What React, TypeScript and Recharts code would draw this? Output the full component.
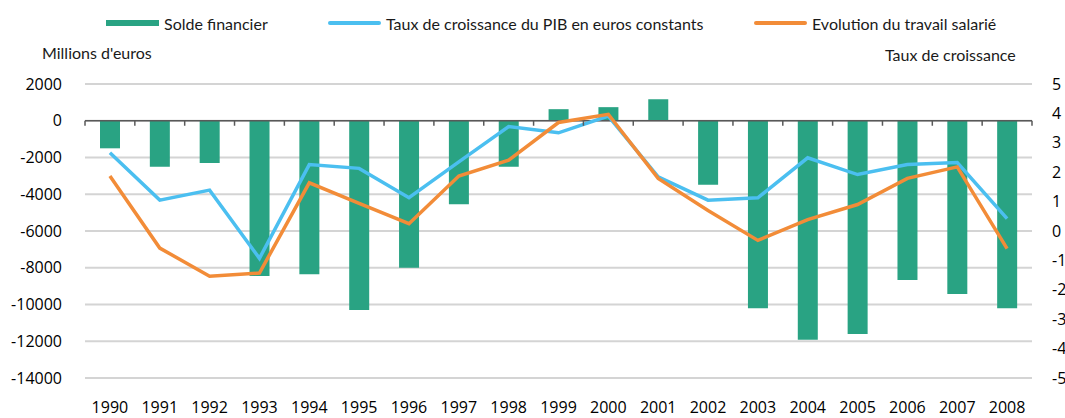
import React from 'react';
import { ComposedChart, Bar, Line, XAxis, YAxis, CartesianGrid, ReferenceLine } from 'recharts';

const years = ['1990', '1991', '1992', '1993', '1994', '1995', '1996', '1997', '1998', '1999', '2000', '2001', '2002', '2003', '2004', '2005', '2006', '2007', '2008'];
// Millions d'euros (left axis)
const soldeFinancier = [-1500, -2500, -2300, -8450, -8350, -10300, -8000, -4550, -2500, 630, 740, 1170, -3480, -10200, -11920, -11600, -8670, -9430, -10200];
// Taux de croissance (right axis)
const tauxPib = [2.66, 1.05, 1.39, -0.93, 2.26, 2.13, 1.13, 2.35, 3.55, 3.34, 3.91, 1.84, 1.05, 1.13, 2.49, 1.92, 2.26, 2.33, 0.42];
const travailSalarie = [1.87, -0.58, -1.54, -1.43, 1.64, 0.94, 0.25, 1.87, 2.41, 3.69, 3.97, 1.79, 0.7, -0.32, 0.39, 0.9, 1.79, 2.18, -0.6];

const leftTicks = [2000, 0, -2000, -4000, -6000, -8000, -10000, -12000, -14000];
const rightTicks = [5, 4, 3, 2, 1, 0, -1, -2, -3, -4, -5];
const seriesLabels = ['Solde financier', 'Taux de croissance du PIB en euros constants', 'Evolution du travail salarié'];

const data = years.map((year, i) => ({
  year,
  solde: soldeFinancier[i],
  pib: tauxPib[i],
  travail: travailSalarie[i],
}));

const W = 1065;
const H = 418;
const M = { top: 84, right: 0, bottom: 0, left: 0 };
const LEFT_W = 85;
const RIGHT_W = 33;
const X_H = 40;
const plotW = W - LEFT_W - RIGHT_W;
const plotH = H - M.top - X_H;
const band = plotW / years.length;
const zeroY = M.top + plotH * (2000 / 16000);

const GREEN = '#29a383';
const BLUE = '#4bbff0';
const ORANGE = '#f28c38';
const labelFont = 'Lato, "Noto Sans", sans-serif';
const tickFont = '"Open Sans", "Noto Sans", sans-serif';

const YearTick = (props: any) => {
  const { x, y, payload, index } = props;
  const left = x - band / 2;
  return (
    <g>
      <line x1={left} x2={left} y1={zeroY} y2={zeroY + 5} stroke="#595959" strokeWidth={1.5} />
      {index === years.length - 1 && (
        <line x1={x + band / 2} x2={x + band / 2} y1={zeroY} y2={zeroY + 5} stroke="#595959" strokeWidth={1.5} />
      )}
      <text x={x} y={y} dy="0.71em" textAnchor="middle" fontSize={16} fontFamily={tickFont} fill="#000">
        {payload.value}
      </text>
    </g>
  );
};

const RightTick = (props: any) => {
  const { y, payload } = props;
  return (
    <text x={1052} y={y} dy="0.355em" textAnchor="start" fontSize={16} fontFamily={tickFont} fill="#000">
      {payload.value}
    </text>
  );
};

const legendItems = [
  { label: seriesLabels[0], color: GREEN, left: 106, thick: 6 },
  { label: seriesLabels[1], color: BLUE, left: 328, thick: 4 },
  { label: seriesLabels[2], color: ORANGE, left: 754, thick: 4 },
];

export default function App() {
  return (
    <div style={{ position: 'absolute', left: 0, top: 0, width: W, height: H, background: '#fff', fontFamily: labelFont, color: '#1a1a1a' }}>
      {legendItems.map((item) => (
        <div key={item.label} style={{ position: 'absolute', left: item.left, top: 12, height: 22, display: 'flex', alignItems: 'center' }}>
          <span style={{ display: 'inline-block', width: 53, height: item.thick, background: item.color, borderRadius: item.thick === 4 ? 2 : 0 }} />
          <span style={{ marginLeft: 5, fontSize: 16, whiteSpace: 'nowrap' }}>{item.label}</span>
        </div>
      ))}
      <div style={{ position: 'absolute', left: 42, top: 43, fontSize: 16, whiteSpace: 'nowrap' }}>Millions d'euros</div>
      <div style={{ position: 'absolute', left: 885, top: 45, fontSize: 16, whiteSpace: 'nowrap' }}>Taux de croissance</div>
      <div style={{ position: 'absolute', left: 0, top: 0 }}>
        <ComposedChart width={W} height={H} data={data} margin={M}>
          <CartesianGrid yAxisId="left" vertical={false} stroke="#d4d4d4" strokeWidth={2} />
          <XAxis
            dataKey="year"
            height={X_H}
            axisLine={false}
            tickLine={false}
            tickSize={0}
            tickMargin={24}
            interval={0}
            tick={<YearTick />}
          />
          <YAxis
            yAxisId="left"
            width={LEFT_W}
            domain={[-14000, 2000]}
            ticks={leftTicks}
            interval={0}
            axisLine={false}
            tickLine={false}
            tickSize={0}
            tickMargin={23}
            tick={{ fontSize: 16, fontFamily: tickFont, fill: '#000' }}
          />
          <YAxis
            yAxisId="right"
            orientation="right"
            width={RIGHT_W}
            domain={[-5, 5]}
            ticks={rightTicks}
            interval={0}
            axisLine={false}
            tickLine={false}
            tickSize={0}
            tick={<RightTick />}
          />
          <Bar yAxisId="left" dataKey="solde" fill={GREEN} barSize={20} isAnimationActive={false} />
          <ReferenceLine yAxisId="left" y={0} stroke="#595959" strokeWidth={1.5} />
          <Line yAxisId="right" type="linear" dataKey="pib" stroke={BLUE} strokeWidth={3.5} dot={false} isAnimationActive={false} />
          <Line yAxisId="right" type="linear" dataKey="travail" stroke={ORANGE} strokeWidth={3.5} dot={false} isAnimationActive={false} />
        </ComposedChart>
      </div>
    </div>
  );
}
